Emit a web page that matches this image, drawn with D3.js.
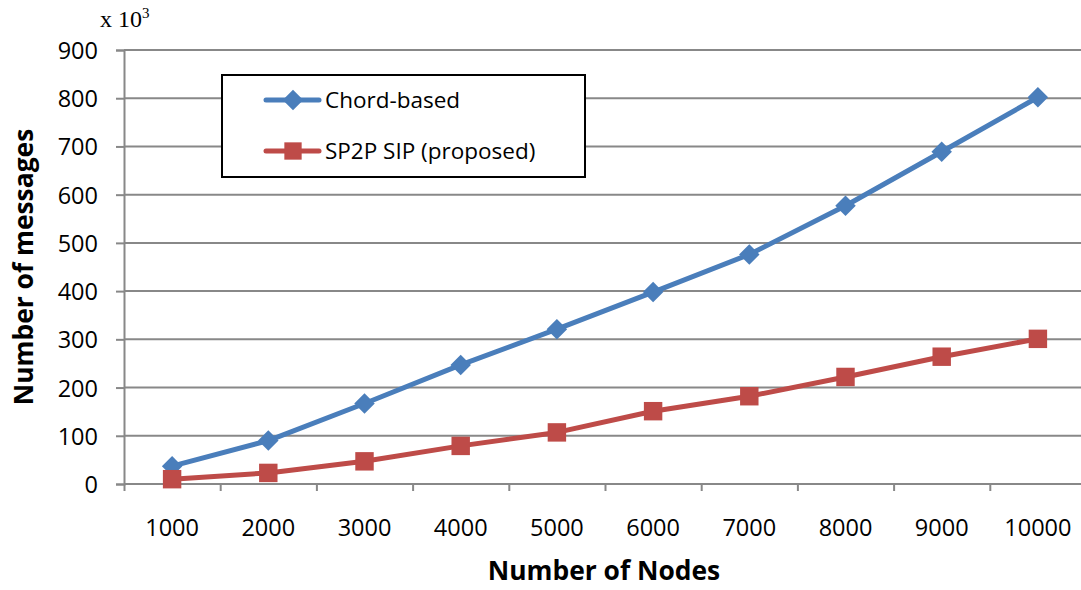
<!DOCTYPE html>
<html>
<head>
<meta charset="utf-8">
<script src="https://cdn.jsdelivr.net/npm/d3@7"></script>
<style>
  body { margin: 0; background: #fff; }
  svg { display: block; }
  text { font-family: "Open Sans", "Liberation Sans", sans-serif; fill: #000; }
</style>
</head>
<body>
<script>
'use strict';

// data (values in thousands of messages)
let nodes = ["1000", "2000", "3000", "4000", "5000", "6000", "7000", "8000", "9000", "10000"];
let chordValues = [37, 90, 167, 247, 321, 398, 476, 577, 689, 802];
let sp2pValues = [10, 23, 47, 79, 107, 151, 182, 222, 264, 301];
let yTicks = [0, 100, 200, 300, 400, 500, 600, 700, 800, 900];
let seriesNames = ["Chord-based", "SP2P SIP (proposed)"];

let width = 1081, height = 590;
let plot = { left: 124, right: 1086, top: 50, bottom: 484 };
let blue = "#4a7ebb", red = "#be4b48", grid = "#888888";

let svg = d3.select("body").append("svg")
  .attr("width", width)
  .attr("height", height);

// scales
let xScale = d3.scaleBand().domain(nodes).range([plot.left, plot.right]).padding(0);
let xEdge = d3.scaleLinear().domain([0, nodes.length]).range([plot.left, plot.right]);
let yScale = d3.scaleLinear().domain([0, 900]).range([plot.bottom, plot.top]);

// horizontal grid lines
svg.append("g")
  .selectAll("line")
  .data(yTicks)
  .enter()
  .append("line")
  .attr("x1", plot.left)
  .attr("x2", plot.right)
  .attr("y1", (d) => yScale(d))
  .attr("y2", (d) => yScale(d))
  .attr("stroke", grid)
  .attr("stroke-width", 2);

// y axis
let yAxis = d3.axisLeft(yScale).tickValues(yTicks).tickSize(8).tickPadding(18);
let yg = svg.append("g")
  .attr("transform", `translate(${plot.left}, 0)`)
  .call(yAxis);
yg.select(".domain").attr("stroke", grid).attr("stroke-width", 2);
yg.selectAll(".tick line").attr("stroke", grid).attr("stroke-width", 2);
yg.selectAll(".tick text")
  .style("font-size", "23.5px")
  .style("font-family", "'Open Sans', sans-serif")
  .attr("fill", "#000")
  .attr("dy", "0.36em");

// x axis: tick marks between the categories
let xTickAxis = d3.axisBottom(xEdge).tickValues(d3.range(nodes.length + 1)).tickSize(7).tickFormat("");
let xtg = svg.append("g")
  .attr("transform", `translate(0, ${plot.bottom})`)
  .call(xTickAxis);
xtg.select(".domain").attr("stroke", grid).attr("stroke-width", 2).attr("d", `M${plot.left},0H${plot.right}`);
xtg.selectAll(".tick line").attr("stroke", grid).attr("stroke-width", 2);

// x axis labels centred on the categories
let xAxis = d3.axisBottom(xScale).tickSize(0).tickPadding(35);
let xg = svg.append("g")
  .attr("transform", `translate(0, ${plot.bottom})`)
  .call(xAxis);
xg.select(".domain").remove();
xg.selectAll(".tick text")
  .style("font-size", "23.5px")
  .style("font-family", "'Open Sans', sans-serif")
  .attr("fill", "#000");

// lines
let line = d3.line()
  .x((d, i) => xScale(nodes[i]) + xScale.bandwidth() / 2)
  .y((d) => yScale(d));

function drawSeries(values, color, shape) {
  svg.append("path")
    .datum(values)
    .attr("fill", "none")
    .attr("stroke", color)
    .attr("stroke-width", 5)
    .attr("stroke-linejoin", "round")
    .attr("d", line);

  let sym = d3.symbol().type(d3.symbolSquare).size(shape === "diamond" ? 210 : 340);
  svg.append("g")
    .selectAll("path")
    .data(values)
    .enter()
    .append("path")
    .attr("d", sym)
    .attr("fill", color)
    .attr("transform", (d, i) => {
      let cx = xScale(nodes[i]) + xScale.bandwidth() / 2;
      return `translate(${cx}, ${yScale(d)})` + (shape === "diamond" ? " rotate(45)" : "");
    });
}

drawSeries(chordValues, blue, "diamond");
drawSeries(sp2pValues, red, "square");

// legend
let legend = svg.append("g");
legend.append("rect")
  .attr("x", 222)
  .attr("y", 75)
  .attr("width", 363)
  .attr("height", 102)
  .attr("fill", "#fff")
  .attr("stroke", "#000")
  .attr("stroke-width", 2);

let legendRows = [
  { name: seriesNames[0], color: blue, shape: "diamond", y: 100 },
  { name: seriesNames[1], color: red, shape: "square", y: 151 }
];

legendRows.forEach((r) => {
  legend.append("line")
    .attr("x1", 266).attr("x2", 319)
    .attr("y1", r.y).attr("y2", r.y)
    .attr("stroke", r.color)
    .attr("stroke-width", 5)
    .attr("stroke-linecap", "round");
  legend.append("path")
    .attr("d", d3.symbol().type(d3.symbolSquare).size(r.shape === "diamond" ? 210 : 300))
    .attr("fill", r.color)
    .attr("transform", `translate(293, ${r.y})` + (r.shape === "diamond" ? " rotate(45)" : ""));
  legend.append("text")
    .attr("x", 325)
    .attr("y", r.y + 8)
    .style("font-size", "22.5px")
    .text(r.name);
});

// axis titles
svg.append("text")
  .attr("x", 604)
  .attr("y", 580)
  .attr("text-anchor", "middle")
  .style("font-size", "26.4px")
  .style("font-weight", "bold")
  .text("Number of Nodes");

svg.append("text")
  .attr("transform", "translate(33, 267) rotate(-90)")
  .attr("text-anchor", "middle")
  .style("font-size", "26.4px")
  .style("font-weight", "bold")
  .text("Number of messages");

// multiplier note
let note = svg.append("text")
  .attr("x", 100)
  .attr("y", 27)
  .style("font-family", "'Liberation Serif', 'DejaVu Serif', serif")
  .style("font-size", "24px");
note.append("tspan").text("x 10");
note.append("tspan").attr("dy", -9).style("font-size", "15px").text("3");
</script>
</body>
</html>
